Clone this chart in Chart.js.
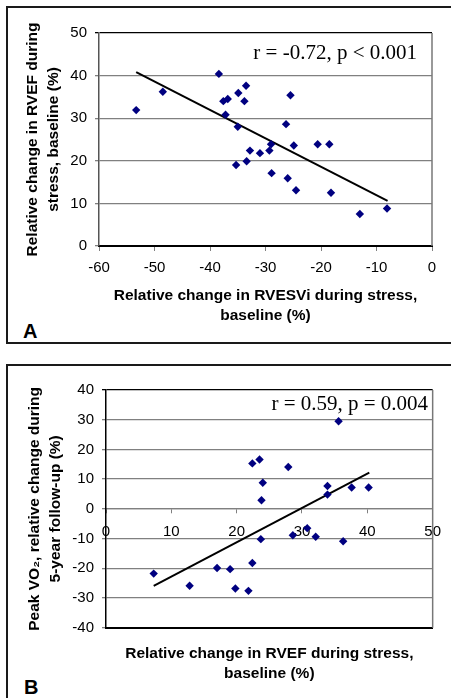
<!DOCTYPE html>
<html>
<head>
<meta charset="utf-8">
<script src="https://cdn.jsdelivr.net/npm/chart.js@4.4.0/dist/chart.umd.min.js"></script>
<style>
  body { margin: 0; background: #fff; width: 451px; height: 698px; overflow: hidden; position: relative; }
  .frame { position: absolute; border: 2px solid #1a1a1a; }
  .tag { position: absolute; font: bold 20px "Liberation Sans", Arial, sans-serif; line-height: 20px; color: #000; }
  canvas { position: absolute; left: 0; }
</style>
</head>
<body>
<div class="frame" style="left:6px; top:6px; width:443px; height:334px;"></div>
<div class="frame" style="left:6px; top:364px; width:460px; height:400px;"></div>
<div class="tag" style="left:23px; top:321px;">A</div>
<div class="tag" style="left:24px; top:677px;">B</div>
<canvas id="chartA" width="451" height="345" style="top:0"></canvas>
<canvas id="chartB" width="451" height="353" style="top:345px"></canvas>
<script>
// panel A: RVESVi change vs RVEF change
var rvesviChange = [-53.3, -48.5, -38.4, -37.6, -36.8, -37.2, -34.9, -33.5, -33.8, -35.0, -35.3, -33.4, -32.8, -31.0,
  -29.3, -29.0, -28.9, -26.3, -25.5, -26.0, -24.9, -24.5, -20.6, -18.5, -18.2, -13.0, -8.1];
var rvefChangeA = [31.9, 36.2, 40.4, 34.0, 34.5, 30.8, 35.9, 37.6, 34.0, 28.0, 19.0, 19.9, 22.4, 21.8,
  22.4, 23.9, 17.1, 28.6, 35.4, 15.9, 23.6, 13.1, 23.9, 23.9, 12.5, 7.5, 8.8];
var trendAx = [-53.3, -8.0];
var trendAy = [40.8, 10.6];

// panel B: RVEF change vs peak VO2 change
var rvefChangeB = [7.3, 12.8, 17.0, 19.0, 19.8, 21.8, 22.4, 22.4, 23.5, 24.0, 23.8, 23.7, 27.9, 28.6,
  30.8, 32.1, 33.9, 33.9, 35.6, 36.3, 37.6, 40.2];
var vo2Change = [-21.8, -25.9, -19.9, -20.3, -26.8, -27.6, -18.2, 15.3, 16.6, 8.8, 2.9, -10.2, 14.1, -8.9,
  -6.5, -9.4, 7.7, 4.8, 29.5, -10.9, 7.2, 7.2];
var trendBx = [7.3, 40.3];
var trendBy = [-25.9, 12.2];

var sans = "'Liberation Sans', Arial, sans-serif";
var pointColor = "#000080";

function pairs(xs, ys) {
  return xs.map(function (x, i) { return { x: x, y: ys[i] }; });
}

var plotExtras = {
  id: "plotExtras",
  beforeDatasetsDraw: function (chart) {
    var a = chart.chartArea, ctx = chart.ctx;
    ctx.save();
    ctx.strokeStyle = "#777";
    ctx.lineWidth = 1.5;
    ctx.beginPath();
    ctx.moveTo(a.right, a.top);
    ctx.lineTo(a.right, a.bottom);
    ctx.stroke();
    ctx.restore();
  },
  afterDatasetsDraw: function (chart, args, opts) {
    var ctx = chart.ctx;
    ctx.save();
    ctx.font = "21px 'Liberation Serif', 'Times New Roman', serif";
    ctx.fillStyle = "#000";
    ctx.textAlign = "right";
    ctx.textBaseline = "middle";
    ctx.fillText(opts.text, chart.scales.x.getPixelForValue(opts.x), chart.scales.y.getPixelForValue(opts.y));
    ctx.restore();
  }
};

function gridColor(max) {
  return function (c) { return c.tick && c.tick.value === max ? "#000" : "#808080"; };
}

var ctxA = document.getElementById("chartA").getContext("2d");
var chartA = new Chart(ctxA, {
  type: "scatter",
  data: {
    datasets: [
      {
        data: pairs(rvesviChange, rvefChangeA),
        pointStyle: "rectRot",
        pointRadius: 4.2,
        backgroundColor: pointColor,
        borderColor: pointColor,
        borderWidth: 0,
      },
      {
        type: "line",
        data: pairs(trendAx, trendAy),
        borderColor: "#000",
        borderWidth: 2,
        pointRadius: 0,
        fill: false,
      },
    ],
  },
  options: {
    responsive: false,
    animation: false,
    events: [],
    layout: { padding: { top: 33, right: 19, left: 0, bottom: 0 } },
    plugins: {
      legend: { display: false },
      tooltip: { enabled: false },
      plotExtras: { text: "r = -0.72, p < 0.001", x: -2.7, y: 45.3 },
    },
    scales: {
      x: {
        type: "linear",
        min: -60,
        max: 0,
        afterFit: function (s) { s.height = 99; },
        ticks: { stepSize: 10, color: "#000", font: { family: sans, size: 15 }, padding: 8 },
        grid: { drawOnChartArea: false, tickLength: 5, color: "#808080" },
        border: { color: "#000", width: 2 },
        title: {
          display: true,
          text: ["Relative change in RVESVi during stress,", "baseline (%)"],
          color: "#000",
          font: { family: sans, size: 15.5, weight: "bold", lineHeight: "20px" },
          padding: { top: 0, bottom: 19 },
        },
      },
      y: {
        min: 0,
        max: 50,
        afterFit: function (s) { s.width = 99; },
        ticks: { stepSize: 10, color: "#000", font: { family: sans, size: 15 }, padding: 8 },
        grid: { color: gridColor(50), lineWidth: 1.3, tickLength: 4 },
        border: { color: "#555", width: 1.5 },
        title: {
          display: true,
          text: ["Relative change in RVEF during", "stress, baseline (%)"],
          color: "#000",
          font: { family: sans, size: 15.5, weight: "bold", lineHeight: "21px" },
          padding: { top: 22.5, bottom: 0 },
        },
      },
    },
  },
  plugins: [plotExtras],
});

var ctxB = document.getElementById("chartB").getContext("2d");
var chartB = new Chart(ctxB, {
  type: "scatter",
  data: {
    datasets: [
      {
        data: pairs(rvefChangeB, vo2Change),
        pointStyle: "rectRot",
        pointRadius: 4.2,
        backgroundColor: pointColor,
        borderColor: pointColor,
        borderWidth: 0,
      },
      {
        type: "line",
        data: pairs(trendBx, trendBy),
        borderColor: "#000",
        borderWidth: 2,
        pointRadius: 0,
        fill: false,
      },
    ],
  },
  options: {
    responsive: false,
    animation: false,
    events: [],
    layout: { padding: { top: 45, right: 17, left: 0, bottom: 0 } },
    plugins: {
      legend: { display: false },
      tooltip: { enabled: false },
      plotExtras: { text: "r = 0.59, p = 0.004", x: 49.3, y: 35.2 },
    },
    scales: {
      x: {
        type: "linear",
        min: 0,
        max: 50,
        afterFit: function (s) { s.height = 70.3; },
        ticks: { display: false, stepSize: 10 },
        grid: { drawOnChartArea: false, drawTicks: false },
        border: { color: "#000", width: 2 },
        title: {
          display: true,
          text: ["Relative change in RVEF during stress,", "baseline (%)"],
          color: "#000",
          font: { family: sans, size: 15.5, weight: "bold", lineHeight: "20px" },
          padding: { top: 0, bottom: 14 },
        },
      },
      xZero: {
        type: "linear",
        axis: "x",
        position: { y: 0 },
        min: 0,
        max: 50,
        afterFit: function (s) { s.height = 0; },
        ticks: { stepSize: 10, color: "#000", font: { family: sans, size: 15 }, padding: 10 },
        grid: { drawOnChartArea: false, tickLength: 4, color: "#808080" },
        border: { color: "#808080", width: 1.3 },
      },
      y: {
        min: -40,
        max: 40,
        afterFit: function (s) { s.width = 106; },
        ticks: { stepSize: 10, color: "#000", font: { family: sans, size: 15 }, padding: 8 },
        grid: { color: gridColor(40), lineWidth: 1.3, tickLength: 4 },
        border: { color: "#000", width: 1.5 },
        title: {
          display: true,
          text: ["Peak VO\u2082, relative change during", "5-year follow-up (%)"],
          color: "#000",
          font: { family: sans, size: 15.5, weight: "bold", lineHeight: "21px" },
          padding: { top: 24.5, bottom: 0 },
        },
      },
    },
  },
  plugins: [plotExtras],
});
</script>
</body>
</html>
